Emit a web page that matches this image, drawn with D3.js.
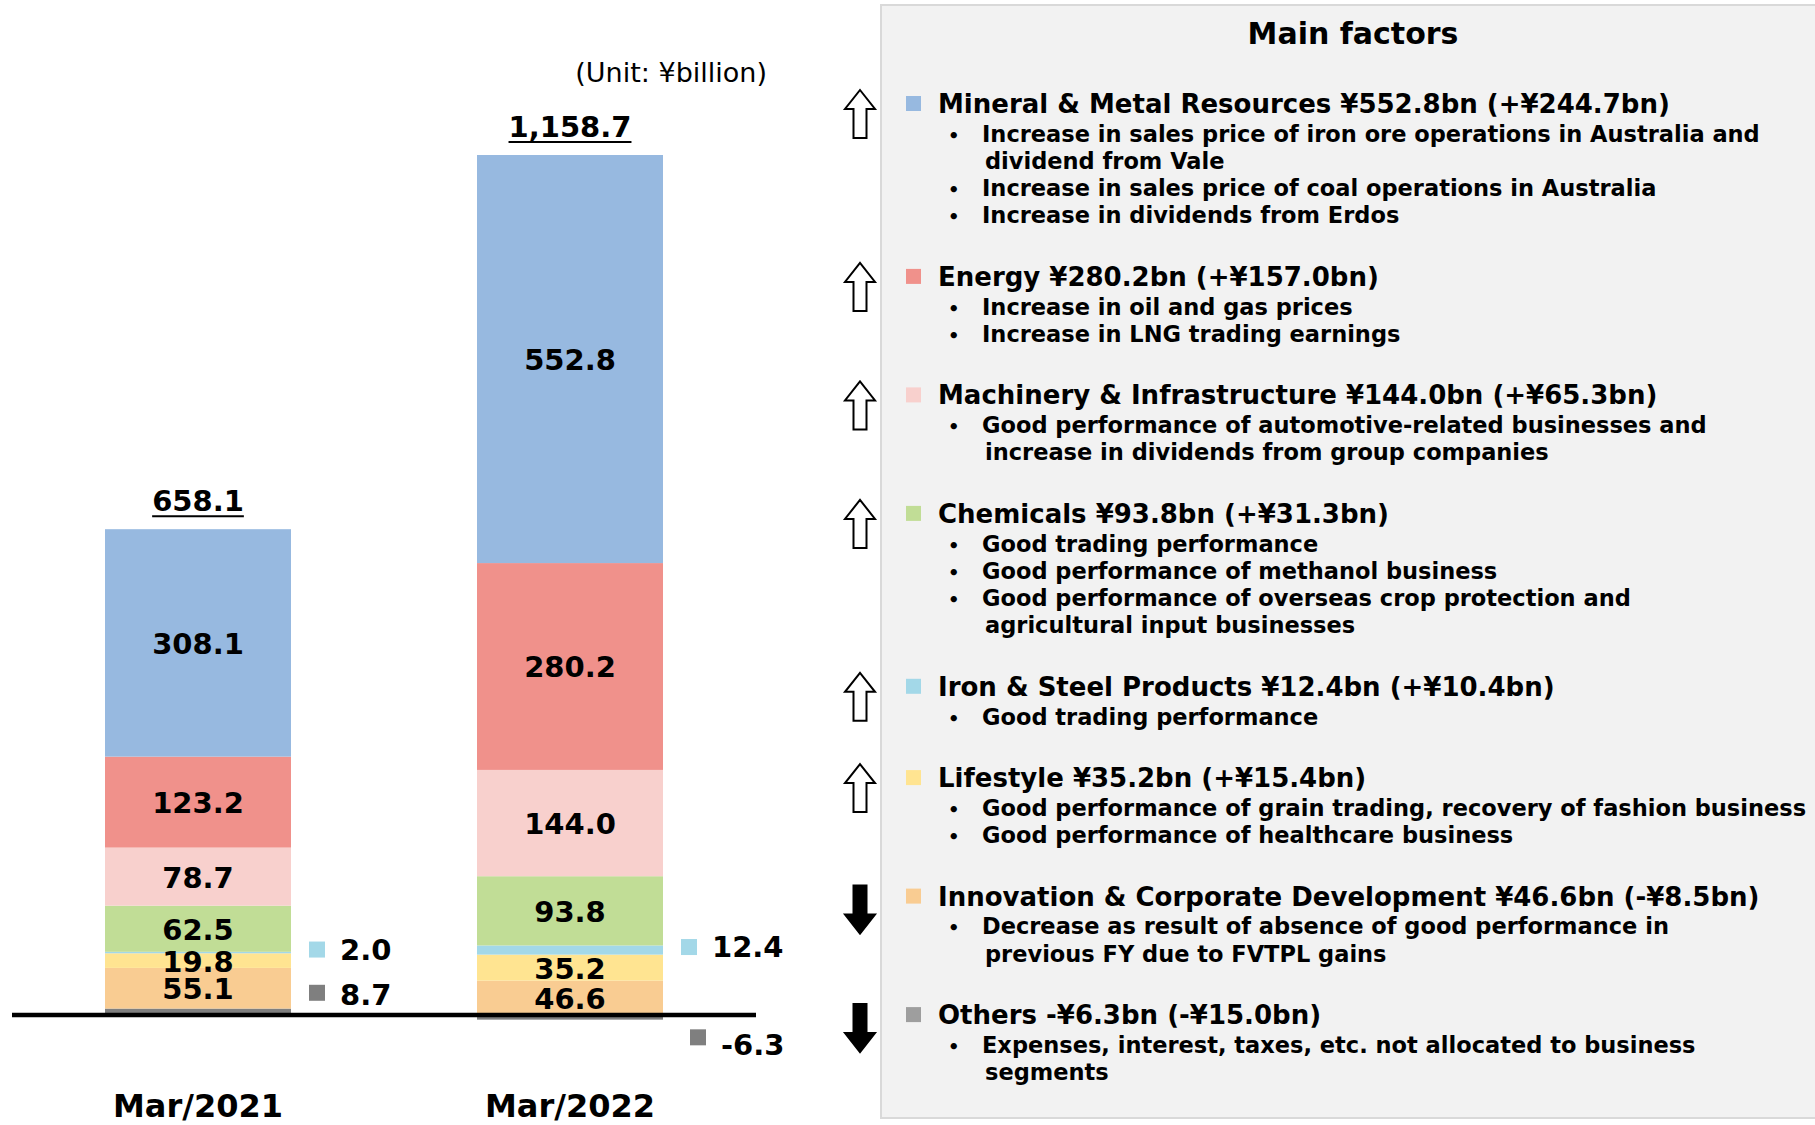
<!DOCTYPE html>
<html>
<head>
<meta charset="utf-8" />
<script src="https://d3js.org/d3.v7.min.js"></script>
<style>
  body { margin: 0; background: #fff; }
  text { font-family: "DejaVu Sans", Verdana, sans-serif; fill: #000; }
</style>
</head>
<body>
<svg width="1815" height="1125"></svg>
<script>
// ---- data ----
var categories = ["Mar/2021", "Mar/2022"];
var segmentKeys = ["Others", "Innovation", "Lifestyle", "IronSteel", "Chemicals", "Machinery", "Energy", "Mineral"];
var values2021 = [8.7, 55.1, 19.8, 2.0, 62.5, 78.7, 123.2, 308.1];
var values2022 = [-6.3, 46.6, 35.2, 12.4, 93.8, 144.0, 280.2, 552.8];
var totals = [658.1, 1158.7];
var outsideKeys = ["IronSteel", "Others"];

var factorKeys = ["Mineral", "Energy", "Machinery", "Chemicals", "IronSteel", "Lifestyle", "Innovation", "Others"];
var factorDirections = ["up", "up", "up", "up", "up", "up", "down", "down"];
var factorTitles = [
  "Mineral & Metal Resources ¥552.8bn (+¥244.7bn)",
  "Energy ¥280.2bn (+¥157.0bn)",
  "Machinery & Infrastructure ¥144.0bn (+¥65.3bn)",
  "Chemicals ¥93.8bn (+¥31.3bn)",
  "Iron & Steel Products ¥12.4bn (+¥10.4bn)",
  "Lifestyle ¥35.2bn (+¥15.4bn)",
  "Innovation & Corporate Development ¥46.6bn (-¥8.5bn)",
  "Others -¥6.3bn (-¥15.0bn)"
];
var factorBullets = [
  [["Increase in sales price of iron ore operations in Australia and", "dividend from Vale"],
   ["Increase in sales price of coal operations in Australia"],
   ["Increase in dividends from Erdos"]],
  [["Increase in oil and gas prices"],
   ["Increase in LNG trading earnings"]],
  [["Good performance of automotive-related businesses and", "increase in dividends from group companies"]],
  [["Good trading performance"],
   ["Good performance of methanol business"],
   ["Good performance of overseas crop protection and", "agricultural input businesses"]],
  [["Good trading performance"]],
  [["Good performance of grain trading, recovery of fashion business"],
   ["Good performance of healthcare business"]],
  [["Decrease as result of absence of good performance in", "previous FY due to FVTPL gains"]],
  [["Expenses, interest, taxes, etc. not allocated to business", "segments"]]
];

// ---- styles ----
var colors = {
  Mineral: "#97b9e0", Energy: "#f0918b", Machinery: "#f8d0cd", Chemicals: "#c1dd96",
  IronSteel: "#a3d8e8", Lifestyle: "#ffe491", Innovation: "#f9cc92", Others: "#7f7f7f"
};
var panelColors = Object.assign({}, colors, { Others: "#9e9e9e" });

var svg = d3.select("svg");

// table for the stack
var table = categories.map(function(c, i) {
  var row = { cat: c };
  segmentKeys.forEach(function(k, j) { row[k] = (i === 0 ? values2021 : values2022)[j]; });
  return row;
});

var series = d3.stack()
  .keys(segmentKeys)
  .offset(d3.stackOffsetDiverging)(table);

var x = d3.scaleBand().domain(categories).range([12, 756]).paddingInner(0.5).paddingOuter(0.25);
var y = d3.scaleLinear().domain([0, 1165]).range([1015, 155]);

// plain hyphen for negatives, as in the source
function fmt(v) { return d3.format(".1f")(v).replace("\u2212", "-"); }

// bars
var layer = svg.append("g").selectAll("g")
  .data(series)
  .join("g")
  .attr("fill", function(d) { return colors[d.key]; });

layer.selectAll("rect")
  .data(function(d) { return d; })
  .join("rect")
  .attr("x", function(d) { return x(d.data.cat); })
  .attr("width", x.bandwidth())
  .attr("y", function(d) { return y(Math.max(d[0], d[1])); })
  .attr("height", function(d) { return Math.abs(y(d[0]) - y(d[1])); });

// inner labels
series.forEach(function(s) {
  if (outsideKeys.indexOf(s.key) >= 0) return;
  s.forEach(function(d) {
    svg.append("text")
      .attr("x", x(d.data.cat) + x.bandwidth() / 2)
      .attr("y", (y(d[0]) + y(d[1])) / 2 + 1)
      .attr("text-anchor", "middle")
      .attr("dominant-baseline", "central")
      .style("font-size", "29px")
      .style("font-weight", "bold")
      .text(fmt(d.data[s.key]));
  });
});

// outside labels with swatches
series.forEach(function(s) {
  if (outsideKeys.indexOf(s.key) < 0) return;
  s.forEach(function(d) {
    var v = d.data[s.key];
    var cy = (y(d[0]) + y(d[1])) / 2;
    var dx = 0, ty = 0;
    if (s.key === "Others") {
      if (v >= 0) { cy -= 19; ty = 2; }
      else { cy += 20; dx = 9; ty = 8; }
    } else cy -= 3;
    var bx = x(d.data.cat) + x.bandwidth() + dx;
    svg.append("rect")
      .attr("x", bx + 18).attr("y", cy - 8)
      .attr("width", 16).attr("height", 16)
      .attr("fill", colors[s.key]);
    svg.append("text")
      .attr("x", bx + 49)
      .attr("y", cy + ty)
      .attr("dominant-baseline", "central")
      .style("font-size", "29px")
      .style("font-weight", "bold")
      .text(fmt(v));
  });
});

// zero line
svg.append("line")
  .attr("x1", x.range()[0]).attr("x2", x.range()[1])
  .attr("y1", y(0)).attr("y2", y(0))
  .attr("stroke", "#000").attr("stroke-width", 4.5);

// totals, underlined
categories.forEach(function(c, i) {
  var posSum = d3.sum(segmentKeys, function(k) { return Math.max(0, table[i][k]); });
  var cx = x(c) + x.bandwidth() / 2;
  var t = svg.append("text")
    .attr("x", cx)
    .attr("y", y(posSum) - 18)
    .attr("text-anchor", "middle")
    .style("font-size", "29px")
    .style("font-weight", "bold")
    .text(d3.format(",.1f")(totals[i]));
  var w = t.node().getComputedTextLength();
  svg.append("line")
    .attr("x1", cx - w / 2).attr("x2", cx + w / 2)
    .attr("y1", y(posSum) - 13).attr("y2", y(posSum) - 13)
    .attr("stroke", "#000").attr("stroke-width", 2);
});

// category labels
categories.forEach(function(c) {
  svg.append("text")
    .attr("x", x(c) + x.bandwidth() / 2)
    .attr("y", 1117)
    .attr("text-anchor", "middle")
    .style("font-size", "32px")
    .style("font-weight", "bold")
    .text(c);
});

svg.append("text")
  .attr("x", 767).attr("y", 82)
  .attr("text-anchor", "end")
  .style("font-size", "27px")
  .text("(Unit: ¥billion)");

// ---- factors panel ----
svg.append("rect")
  .attr("x", 881).attr("y", 5)
  .attr("width", 940).attr("height", 1113)
  .attr("fill", "#f2f2f2")
  .attr("stroke", "#d9d9d9").attr("stroke-width", 2);

svg.append("text")
  .attr("x", 1353).attr("y", 44)
  .attr("text-anchor", "middle")
  .style("font-size", "30px")
  .style("font-weight", "bold")
  .text("Main factors");

function arrowPath(cx, cy, dir) {
  var H = 48, W = 30, S = 13, Hh = 19;
  var s = dir === "up" ? 1 : -1;
  var t = cy - s * H / 2, b = cy + s * H / 2, n = t + s * Hh;
  return "M" + cx + "," + t +
    "L" + (cx + W / 2) + "," + n +
    "L" + (cx + S / 2) + "," + n +
    "L" + (cx + S / 2) + "," + b +
    "L" + (cx - S / 2) + "," + b +
    "L" + (cx - S / 2) + "," + n +
    "L" + (cx - W / 2) + "," + n + "Z";
}

var yy = 113;
factorTitles.forEach(function(title, i) {
  var key = factorKeys[i];
  var dir = factorDirections[i];
  svg.append("path")
    .attr("d", arrowPath(860, yy + (dir === "up" ? 1 : 4), dir))
    .attr("fill", dir === "up" ? "#fff" : "#000")
    .attr("stroke", "#000")
    .attr("stroke-width", 2);
  svg.append("rect")
    .attr("x", 906).attr("y", yy - 17)
    .attr("width", 15).attr("height", 15)
    .attr("fill", panelColors[key]);
  svg.append("text")
    .attr("x", 938).attr("y", yy)
    .style("font-size", "26px")
    .style("font-weight", "bold")
    .text(title);
  var ly = yy + 28.8;
  factorBullets[i].forEach(function(lines) {
    lines.forEach(function(line, j) {
      if (j === 0) {
        svg.append("text")
          .attr("x", 948).attr("y", ly)
          .style("font-size", "18px")
          .style("font-weight", "bold")
          .text("•");
      }
      svg.append("text")
        .attr("x", j === 0 ? 982 : 985).attr("y", ly)
        .style("font-size", "22.5px")
        .style("font-weight", "bold")
        .text(line);
      ly += 27.2;
    });
  });
  yy = ly - 27.2 + 62.5;
});
</script>
</body>
</html>
